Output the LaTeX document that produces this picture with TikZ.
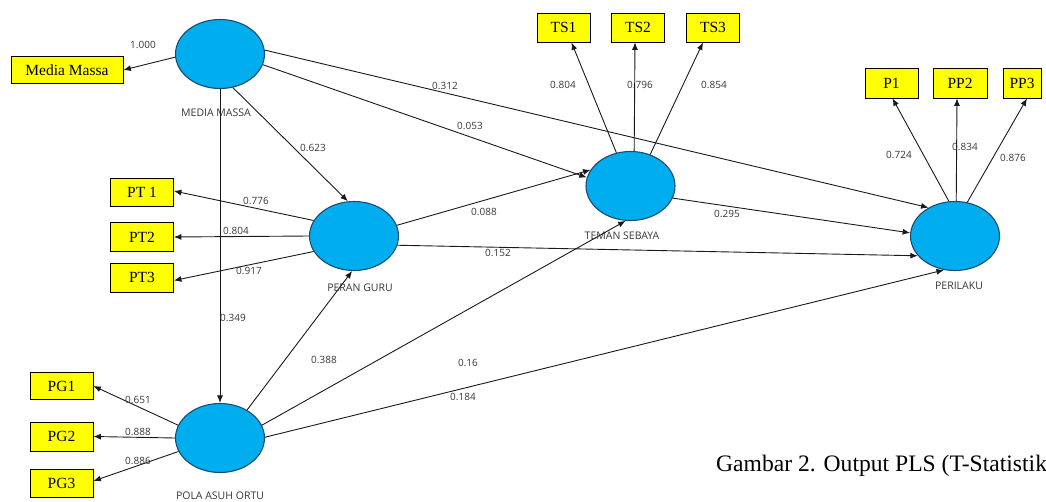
\documentclass[tikz,border=0pt]{standalone}
\usepackage{fontspec}
\setmainfont{Liberation Serif}
\newfontfamily\lblfont{Open Sans}
\usetikzlibrary{shapes.geometric,arrows.meta}
\definecolor{lvfill}{RGB}{0,174,239}
\definecolor{lvdraw}{RGB}{25,75,115}
\definecolor{boxfill}{RGB}{255,255,0}
\definecolor{lbl}{RGB}{55,55,55}
\tikzset{
  lv/.style={ellipse,draw=lvdraw,line width=1.1pt,fill=lvfill,minimum width=89pt,minimum height=69pt,inner sep=0pt},
  ind/.style={rectangle,draw=black,line width=0.8pt,fill=boxfill,minimum height=28pt,inner sep=0pt,font=\fontsize{15.5}{16}\selectfont},
  arr/.style={draw=black!90,line width=0.9pt,-{Latex[length=7.5pt,width=6pt]}},
  num/.style={anchor=base,text=lbl,inner sep=0pt,font=\lblfont\fontsize{10}{11}\selectfont},
  nm/.style={anchor=base,text=lbl,inner sep=0pt,font=\lblfont\fontsize{10.5}{11}\selectfont}
}
\begin{document}
\begin{tikzpicture}[x=1pt,y=-1pt]
\useasboundingbox (0,0) rectangle (1046,501);
\clip (0,0) rectangle (1046,501);
% latent variables
\node[lv] (mm) at (220,54) {};
\node[lv] (pg) at (354,236) {};
\node[lv] (ts) at (630.5,186) {};
\node[lv] (pl) at (955,236) {};
\node[lv] (po) at (220,438) {};
% names
\node[nm] (mmn) at (216,116) {MEDIA MASSA};
\node[nm] (pgn) at (360,291) {PERAN GURU};
\node[nm] (tsn) at (622,239) {TEMAN SEBAYA};
\node[nm] (pln) at (959,289) {PERILAKU};
\node[nm] (pon) at (220,499.5) {POLA ASUH ORTU};
% indicators
\node[ind,minimum width=112pt,minimum height=27pt] (mmb) at (67,70) {Media Massa};
\node[ind,minimum width=53pt,minimum height=29pt] (ts1) at (563.5,27.5) {TS1};
\node[ind,minimum width=53pt,minimum height=29pt] (ts2) at (638,27.5) {TS2};
\node[ind,minimum width=53pt,minimum height=29pt] (ts3) at (713,27.5) {TS3};
\node[ind,minimum width=53pt,minimum height=30pt] (p1) at (891.5,83) {P1};
\node[ind,minimum width=54pt,minimum height=30pt] (pp2) at (960,83) {PP2};
\node[ind,minimum width=38pt,minimum height=30pt] (pp3) at (1022,83) {PP3};
\node[ind,minimum width=63pt,minimum height=28pt] (pt1) at (142,192) {PT 1};
\node[ind,minimum width=63pt,minimum height=29pt] (pt2) at (142,237) {PT2};
\node[ind,minimum width=63pt,minimum height=29pt] (pt3) at (142,277.5) {PT3};
\node[ind,minimum width=63pt,minimum height=27pt] (pg1) at (61.5,386) {PG1};
\node[ind,minimum width=63pt,minimum height=29pt] (pg2) at (61.5,436.5) {PG2};
\node[ind,minimum width=63pt,minimum height=28pt] (pg3) at (61.5,483) {PG3};
% outer model arrows
\draw[arr] (mm.184) -- (mmb.east);
\draw[arr] (ts.113) -- ([xshift=8pt]ts1.south);
\draw[arr] (ts.84) -- ([xshift=-3pt]ts2.south);
\draw[arr] (ts.58) -- ([xshift=-10pt]ts3.south);
\draw[arr] (pl.100) -- ([xshift=1pt]p1.south);
\draw[arr] (pl.88) -- ([xshift=-3pt]pp2.south);
\draw[arr] (pl.70) -- ([xshift=5pt]pp3.south);
\draw[arr] (pg.159) -- ([yshift=1pt]pt1.east);
\draw[arr] (pg.180) -- (pt2.east);
\draw[arr] (pg.201) -- ([yshift=-3pt]pt3.east);
\draw[arr] (po.163) -- (pg1.east);
\draw[arr] (po.180) -- (pg2.east);
\draw[arr] (po.198) -- ([yshift=2pt]pg3.east);
% inner model arrows
\draw[arr] (mm.south) -- (po.north);
\draw[arr] (mm.-69) -- (pg.100);
\draw[arr] (mm.-14) -- (ts.169);
\draw[arr] (mm.5) -- (pl.133);
\draw[arr] (pg.14) -- (ts.158);
\draw[arr] (pg.-12) -- (pl.208);
\draw[arr] (ts.-16) -- (pl.176);
\draw[arr] (po.46) -- (pg.267);
\draw[arr] (po.17) -- (ts.262);
\draw[arr] (po.1) -- (pl.252);
% coefficients
\node[num] (l1) at (143,48) {1.000};
\node[num] (l2) at (563,88) {0.804};
\node[num] (l3) at (640,88) {0.796};
\node[num] (l4) at (714,88) {0.854};
\node[num] (l5) at (899,158) {0.724};
\node[num] (l6) at (965,150) {0.834};
\node[num] (l7) at (1013,161) {0.876};
\node[num] (l8) at (256,204) {0.776};
\node[num] (l9) at (236,234.5) {0.804};
\node[num] (l10) at (249,274) {0.917};
\node[num] (l11) at (484,215) {0.088};
\node[num] (l12) at (498,256.5) {0.152};
\node[num] (l13) at (138,403.5) {0.651};
\node[num] (l14) at (138,435.5) {0.888};
\node[num] (l15) at (138,464.5) {0.886};
\node[num] (l16) at (445,89.5) {0.312};
\node[num] (l17) at (470,129.5) {0.053};
\node[num] (l18) at (313,151.5) {0.623};
\node[num] (l19) at (727,217.5) {0.295};
\node[num] (l20) at (233,321.5) {0.349};
\node[num] (l21) at (324,363.5) {0.388};
\node[num] (l22) at (468,366.5) {0.16};
\node[num] (l23) at (463,400.5) {0.184};
% caption
\node[anchor=base west,inner sep=0pt,font=\fontsize{23.6}{27}\selectfont] (cap) at (716,471) {Gambar 2. Output PLS (T-Statistik};
\end{tikzpicture}
\end{document}
